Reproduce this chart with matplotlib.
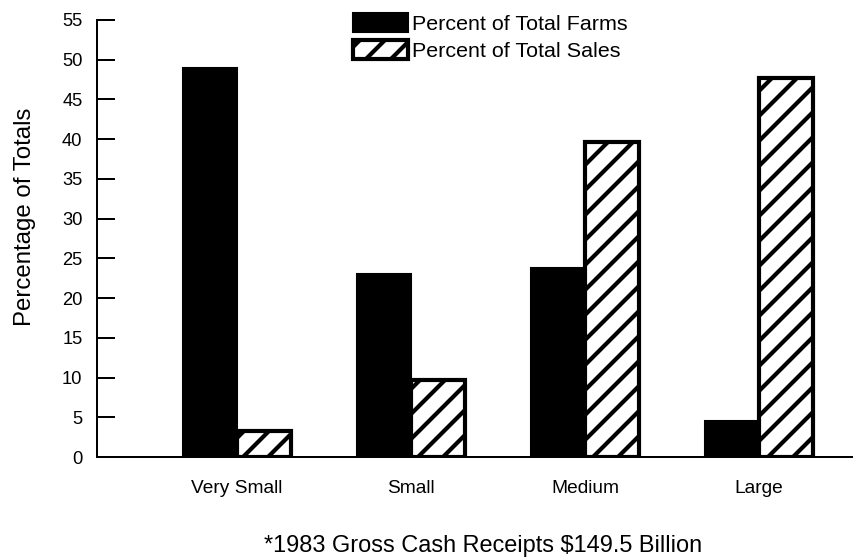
# -*- coding: utf-8 -*-
"""Farm size: share of farms vs share of sales (1983)."""

import numpy as np
import matplotlib
matplotlib.use("Agg")
import matplotlib.pyplot as plt
from matplotlib.patches import Patch

# ── Data ────────────────────────────────────────────────────────────────────
CATEGORIES = ["Very Small", "Small", "Medium", "Large"]
PCT_FARMS = [49.0, 23.0, 23.8, 4.5]
PCT_SALES = [3.3, 9.7, 39.7, 47.7]
Y_TICKS = [0, 5, 10, 15, 20, 25, 30, 35, 40, 45, 50, 55]
Y_LABEL = "Percentage of Totals"
LEGEND_LABELS = ["Percent of Total Farms", "Percent of Total Sales"]
FOOTNOTE = "*1983 Gross Cash Receipts $149.5 Billion"
# ────────────────────────────────────────────────────────────────────────────

W_PX, H_PX, DPI = 853, 560, 150
PT = 72.0 / DPI  # points per pixel

plt.rcParams["font.family"] = ["Liberation Sans", "DejaVu Sans"]
plt.rcParams["hatch.linewidth"] = 3.0 * PT * 1.4
plt.rcParams["hatch.color"] = "black"

fig = plt.figure(figsize=(W_PX / DPI, H_PX / DPI), dpi=DPI)

# axes frame in pixels: left spine x=97, bottom (0) y=457, top (55) y=20
left, right, bottom, top = 97, 853, 457, 20
ax = fig.add_axes([left / W_PX, (H_PX - bottom) / H_PX,
                   (right - left) / W_PX, (bottom - top) / H_PX])

# group centres sit every 174 px, first one at x=237
x = np.arange(len(CATEGORIES))
step, first = 174.0, 237.0
ax.set_xlim((left - first) / step, (right - first) / step)
ax.set_ylim(0, 55)
bw = 54.0 / step

ax.bar(x - bw / 2, PCT_FARMS, bw, color="black", edgecolor="black",
       linewidth=1.0, label=LEGEND_LABELS[0])
ax.bar(x + bw / 2, PCT_SALES, bw, color="white", edgecolor="black",
       linewidth=2.0, hatch="//", label=LEGEND_LABELS[1])

for s in ("top", "right"):
    ax.spines[s].set_visible(False)
for s in ("left", "bottom"):
    ax.spines[s].set_linewidth(2 * PT)

ax.set_yticks(Y_TICKS)
ax.tick_params(axis="y", direction="in", length=18 * PT, width=2 * PT,
               pad=7, labelsize=8.8)
ax.set_xticks(x)
ax.set_xticklabels(CATEGORIES)
ax.tick_params(axis="x", length=0, pad=11, labelsize=9.2)

fig.text(25 / W_PX, 1 - 217 / H_PX, Y_LABEL, rotation=90,
         ha="center", va="center", fontsize=11.5)

handles = [Patch(facecolor="black", edgecolor="black"),
           Patch(facecolor="white", edgecolor="black", linewidth=2.0, hatch="//")]
ax.legend(handles, LEGEND_LABELS, loc="upper left",
          bbox_to_anchor=(353 / W_PX, 1 - 13 / H_PX),
          bbox_transform=fig.transFigure, frameon=False, fontsize=10.3,
          borderpad=0, borderaxespad=0, handlelength=2.56, handleheight=0.95,
          handletextpad=0.2, labelspacing=0.3)

fig.text(483 / W_PX, 1 - 546 / H_PX, FOOTNOTE, ha="center", va="center",
         fontsize=11.3)

fig.savefig("out.png", dpi=DPI)
